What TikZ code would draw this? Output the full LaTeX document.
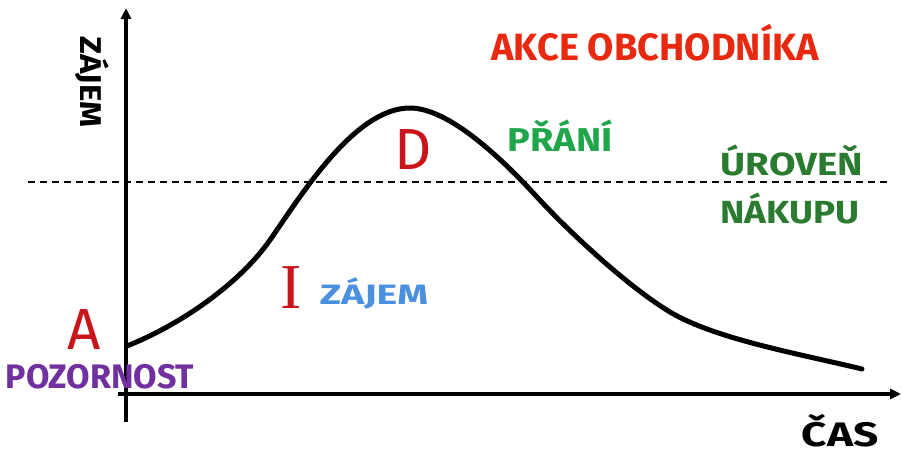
\documentclass[tikz,border=0pt]{standalone}
\usepackage{fontspec}
\usepackage{graphicx}
\setmainfont{Fira Sans}
\newfontfamily\serifletter{Liberation Serif}
\usetikzlibrary{arrows.meta}
\definecolor{akred}{HTML}{E8280F}
\definecolor{letred}{HTML}{C8141A}
\definecolor{prgreen}{HTML}{1FA64A}
\definecolor{dkgreen}{HTML}{2A7A30}
\definecolor{zblue}{HTML}{4A90E0}
\definecolor{purp}{HTML}{7030A0}
\tikzset{
  axis/.style={line width=3.2pt, -{Triangle[length=11pt,width=10pt]}},
  curve/.style={line width=5pt, line cap=round, line join=round},
  level/.style={line width=1.6pt, dash pattern=on 7pt off 5pt},
  lab/.style={inner sep=0pt},
  big/.style={inner sep=0pt, font=\fontsize{58}{58}\selectfont, text=letred},
}
\begin{document}
\begin{tikzpicture}[x=1pt,y=-1pt]
\useasboundingbox (0,0) rectangle (902,455);
% axes
\coordinate (ytop) at (126,8);
\coordinate (ybot) at (126,422);
\coordinate (xleft) at (118,394);
\coordinate (xright) at (901,394);
\draw[axis] (ybot) -- (ytop);
\draw[axis] (xleft) -- (xright);
% purchase level
\coordinate (dl) at (28,182);
\coordinate (dr) at (891,182);
\draw[level] (dl) -- (dr);
% curve
\coordinate (p0) at (127,346);
\coordinate (p1) at (270,240);
\coordinate (p2) at (410,108);
\coordinate (p3) at (537,197);
\coordinate (p4) at (670,312);
\coordinate (p5) at (862,369);
\draw[curve] (p0) .. controls (182,324) and (240,283) .. (p1)
  .. controls (302,194) and (355,108) .. (p2)
  .. controls (450,108) and (505,162) .. (p3)
  .. controls (572,235) and (630,288) .. (p4)
  .. controls (715,339) and (800,354) .. (p5);
% labels
\node[lab, text=akred, font=\bfseries\fontsize{38}{38}\selectfont] (akce) at (655,43) {AKCE OBCHODNÍKA};
\node[lab, text=prgreen, font=\bfseries\fontsize{33}{33}\selectfont] (prani) at (560,136) {\scalebox{1.15}[1]{PŘÁNÍ}};
\node[lab, text=dkgreen, font=\bfseries\fontsize{32}{32}\selectfont] (urov) at (792,160) {\scalebox{1.2}[1]{ÚROVEŇ}};
\node[lab, text=dkgreen, font=\bfseries\fontsize{32}{32}\selectfont] (nak) at (790,208) {\scalebox{1.15}[1]{NÁKUPU}};
\node[big] (d) at (413,150) {D};
\node[big, font=\serifletter\fontsize{64}{64}\selectfont] (i) at (291,288) {I};
\node[big] (a) at (84,330) {A};
\node[lab, text=zblue, font=\bfseries\fontsize{28}{28}\selectfont] (zajem) at (374,293) {\scalebox{1.4}[1]{ZÁJEM}};
\node[lab, text=purp, font=\bfseries\fontsize{34}{34}\selectfont] (poz) at (100,377) {POZORNOST};
\node[lab, anchor=base, font=\bfseries\fontsize{34}{34}\selectfont] (cas) at (840,446) {\scalebox{1.3}[1]{ČAS}};
\node[lab, rotate=-90, font=\bfseries\fontsize{30}{30}\selectfont] (yl) at (92,82) {\scalebox{1.1}[1]{ZÁJEM}};
\end{tikzpicture}
\end{document}
